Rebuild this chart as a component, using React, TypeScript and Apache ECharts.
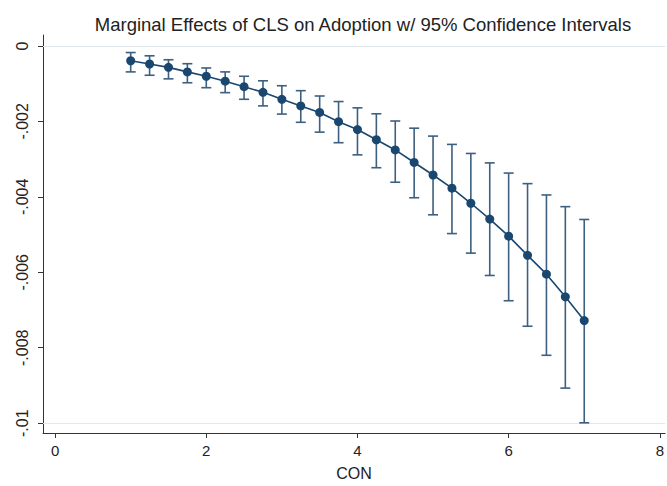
import React, { useEffect, useRef } from "react";
import * as echarts from "echarts";

const xValues = [1, 1.25, 1.5, 1.75, 2, 2.25, 2.5, 2.75, 3, 3.25, 3.5, 3.75, 4, 4.25, 4.5, 4.75, 5, 5.25, 5.5, 5.75, 6, 6.25, 6.5, 6.75, 7];
const effects = [-0.000393, -0.000479, -0.000568, -0.000688, -0.000804, -0.000935, -0.00108, -0.00123, -0.001414, -0.001589, -0.001762, -0.002008, -0.002217, -0.002487, -0.002757, -0.003089, -0.003421, -0.00377, -0.00417, -0.004589, -0.005042, -0.00555, -0.00605, -0.00665, -0.00728];
const upper = [-0.000175, -0.000262, -0.000366, -0.000471, -0.000584, -0.000688, -0.000804, -0.000924, -0.001055, -0.001186, -0.001327, -0.001474, -0.001641, -0.001798, -0.00199, -0.00218, -0.00239, -0.00261, -0.00285, -0.0031, -0.00337, -0.00365, -0.00395, -0.00426, -0.0046];
const lower = [-0.000688, -0.000777, -0.000872, -0.000976, -0.001107, -0.001238, -0.001414, -0.001589, -0.001806, -0.002024, -0.002285, -0.002565, -0.002887, -0.003228, -0.003613, -0.004024, -0.004476, -0.004974, -0.005492, -0.006084, -0.006754, -0.00743, -0.0082, -0.00907, -0.00999];
const xTicks = [0, 2, 4, 6, 8];
const yTicks = [0, -0.002, -0.004, -0.006, -0.008, -0.01];

const fmtY = (v: number) => {
  let s = String(parseFloat(Number(v).toFixed(4)));
  return s.replace("0.", ".");
};

export default function App() {
  const ref = useRef<HTMLDivElement>(null);
  useEffect(() => {
    if (!ref.current) return;
    const chart = echarts.init(ref.current, null, { renderer: "svg" });
    const navy = "#1a476f";
    const barColor = "#3d5f80";
    const font = "Liberation Sans, Arial, sans-serif";
    chart.setOption({
      animation: false,
      backgroundColor: "#ffffff",
      textStyle: { fontFamily: font },
      title: {
        text: "Marginal Effects of CLS on Adoption w/ 95% Confidence Intervals",
        left: 358,
        textAlign: "center",
        top: 10,
        textStyle: { fontSize: 18.5, fontWeight: "normal", color: "#222", fontFamily: font },
      },
      grid: { left: 43, right: 0, top: 35, bottom: 48 },
      xAxis: {
        type: "value",
        min: -0.16,
        max: 8.07,
        name: "CON",
        nameLocation: "middle",
        nameGap: 32,
        nameTextStyle: { fontSize: 16, color: "#222" },
        axisLine: { show: true, onZero: false, lineStyle: { color: "#333", width: 1 } },
        axisTick: { show: true, length: 5, customValues: xTicks, lineStyle: { color: "#333" } },
        axisLabel: { customValues: xTicks, fontSize: 15, color: "#222", margin: 10, formatter: (v: number) => String(v) },
        splitLine: { show: false },
      },
      yAxis: {
        type: "value",
        min: -0.01026,
        max: 0.00029,
        axisLine: { show: true, onZero: false, lineStyle: { color: "#333", width: 1 } },
        axisTick: { show: true, length: 5, customValues: yTicks, lineStyle: { color: "#333" } },
        axisLabel: { customValues: yTicks, fontSize: 16, color: "#222", rotate: 90, margin: 13, formatter: fmtY },
        splitLine: { show: false },
      },
      series: [
        {
          type: "custom",
          z: 2,
          silent: true,
          data: xValues.map((x, i) => [x, lower[i], upper[i]]),
          renderItem: (params: any, api: any) => {
            const x = api.value(0);
            const pLo = api.coord([x, api.value(1)]);
            const pHi = api.coord([x, api.value(2)]);
            const w = 5;
            const st = { stroke: barColor, lineWidth: 1.6 };
            return {
              type: "group",
              children: [
                { type: "line", shape: { x1: pHi[0], y1: pHi[1], x2: pLo[0], y2: pLo[1] }, style: st },
                { type: "line", shape: { x1: pHi[0] - w, y1: pHi[1], x2: pHi[0] + w, y2: pHi[1] }, style: st },
                { type: "line", shape: { x1: pLo[0] - w, y1: pLo[1], x2: pLo[0] + w, y2: pLo[1] }, style: st },
              ],
            };
          },
        },
        {
          type: "line",
          z: 3,
          data: xValues.map((x, i) => [x, effects[i]]),
          symbol: "circle",
          symbolSize: 9,
          lineStyle: { color: navy, width: 1.6 },
          itemStyle: { color: navy },
          markLine: {
            silent: true,
            symbol: "none",
            z: 1,
            label: { show: false },
            lineStyle: { color: "#e2e9ee", width: 1, type: "solid" },
            data: yTicks.map((v) => ({ yAxis: v })),
          },
        },
      ],
    });
    return () => chart.dispose();
  }, []);
  return <div ref={ref} style={{ position: "absolute", left: 0, top: 0, width: 667, height: 486 }} />;
}
